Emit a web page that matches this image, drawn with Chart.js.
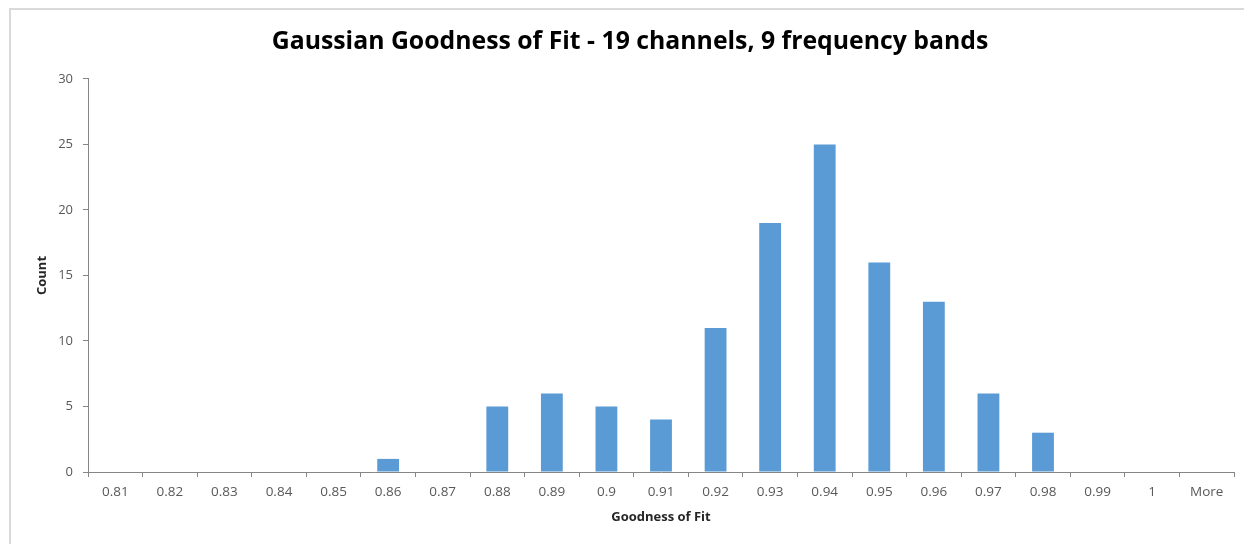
<!DOCTYPE html>
<html>
<head>
<meta charset="utf-8">
<script src="https://cdn.jsdelivr.net/npm/chart.js@4.4.1/dist/chart.umd.min.js"></script>
<style>
  html, body { margin: 0; padding: 0; background: #ffffff; overflow: hidden; }
  #wrap { position: relative; width: 1244px; height: 544px; }
  #frame { position: absolute; left: 9px; top: 8px; width: 1300px; height: 600px; border: 2px solid #d9d9d9; box-sizing: border-box; }
  canvas { position: absolute; left: 0; top: 0; }
</style>
</head>
<body>
<div id="wrap">
  <div id="frame"></div>
  <canvas id="chart" width="1244" height="544"></canvas>
</div>
<script>
// Histogram bins (upper edge of each bin) and their counts
const bins = ["0.81", "0.82", "0.83", "0.84", "0.85", "0.86", "0.87", "0.88", "0.89", "0.9",
              "0.91", "0.92", "0.93", "0.94", "0.95", "0.96", "0.97", "0.98", "0.99", "1", "More"];
const counts = [0, 0, 0, 0, 0, 1, 0, 5, 6, 5, 4, 11, 19, 25, 16, 13, 6, 3, 0, 0, 0];
const yTicks = [0, 5, 10, 15, 20, 25, 30];

const FONT = "'Open Sans', 'Noto Sans', sans-serif";
const axisGray = '#868686';
const textGray = '#595959';

new Chart(document.getElementById('chart'), {
  type: 'bar',
  data: {
    labels: bins,
    datasets: [{
      label: 'Frequency',
      data: counts,
      backgroundColor: '#5b9bd5',
      borderWidth: 0,
      categoryPercentage: 1.0,
      barPercentage: 0.4
    }]
  },
  options: {
    responsive: false,
    animation: false,
    devicePixelRatio: 1,
    layout: { padding: { left: 26, right: 10, top: 0, bottom: 0 } },
    plugins: {
      legend: { display: false },
      tooltip: { enabled: false },
      title: {
        display: true,
        text: 'Gaussian Goodness of Fit - 19 channels, 9 frequency bands',
        color: '#000000',
        font: { family: FONT, size: 24.8, weight: 'bold' },
        padding: { top: 27.5, bottom: 21.7 }
      }
    },
    scales: {
      x: {
        grid: { display: true, drawOnChartArea: false, drawTicks: true, tickLength: 5, color: axisGray, offset: true },
        border: { display: true, color: axisGray, width: 1 },
        ticks: { color: textGray, font: { family: FONT, size: 13.5 }, padding: 7, maxRotation: 0, autoSkip: false },
        title: { display: true, text: 'Goodness of Fit', color: '#262626', font: { family: FONT, size: 13, weight: 'bold' }, padding: { top: 0, bottom: 19 } },
        afterFit: (s) => { s.height = 72; }
      },
      y: {
        min: 0, max: 30,
        afterBuildTicks: (s) => { s.ticks = yTicks.map(v => ({ value: v })); },
        grid: { display: true, drawOnChartArea: false, drawTicks: true, tickLength: 5, color: axisGray },
        border: { display: true, color: axisGray, width: 1 },
        ticks: { color: textGray, font: { family: FONT, size: 13 }, padding: 10 },
        title: { display: true, text: 'Count', color: '#262626', font: { family: FONT, size: 13, weight: 'bold' }, padding: { top: 8, bottom: 0 } },
        afterFit: (s) => { s.width = 62; }
      }
    }
  }
});
</script>
</body>
</html>
